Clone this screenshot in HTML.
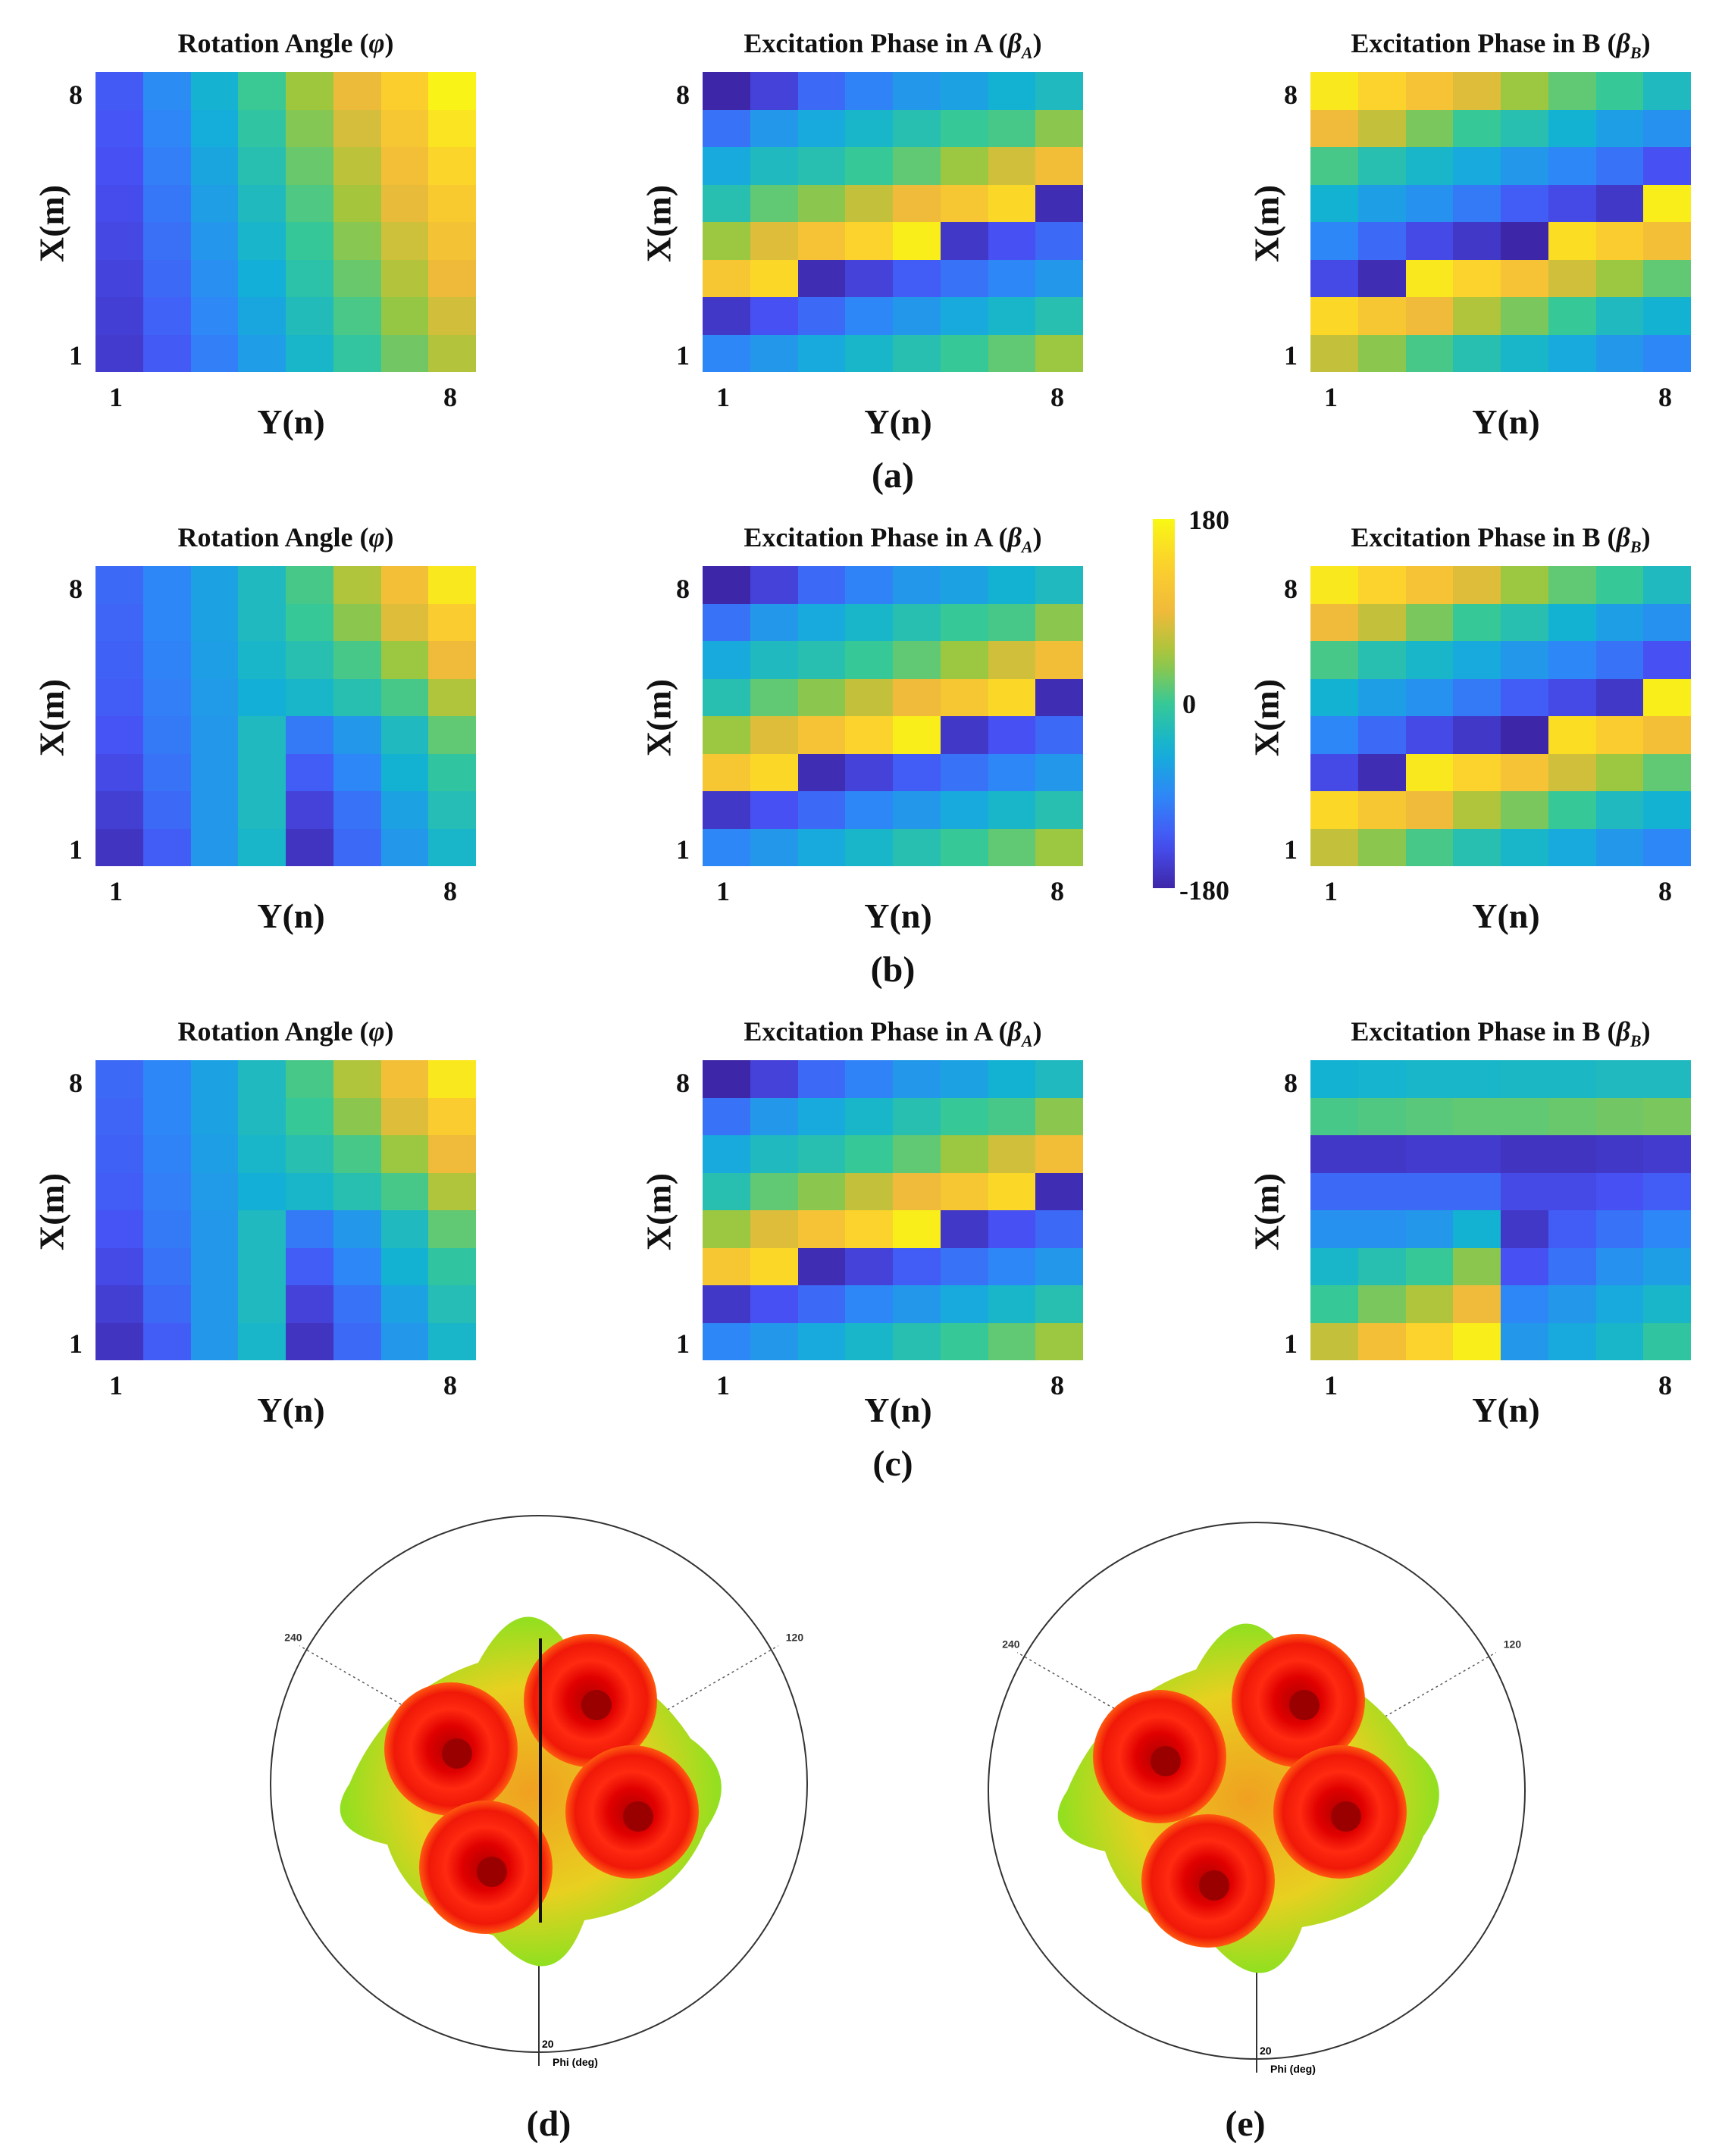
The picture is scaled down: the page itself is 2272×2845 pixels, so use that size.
<!DOCTYPE html>
<html><head><meta charset="utf-8">
<style>
html,body{margin:0;padding:0;background:#fff;}
body{width:2272px;height:2845px;position:relative;overflow:hidden;font-family:"Liberation Serif",serif;font-weight:bold;color:#111;}
.t{position:absolute;white-space:nowrap;}
.title{font-size:36px;transform:translateX(-50%);}
.tick{font-size:36px;}
.ax{font-size:46px;transform:translateX(-50%);}
.xm{font-size:46px;transform:translate(-50%,-50%) rotate(-90deg);}
.lab{font-size:48px;transform:translateX(-50%);}
.hm{position:absolute;display:grid;grid-template-columns:repeat(8,1fr);grid-template-rows:repeat(8,1fr);}
</style></head><body>
<div id="root"></div>
<svg width="2272" height="2845" style="position:absolute;left:0;top:0" id="pol">
<defs>
<radialGradient id="rg" cx="50%" cy="50%" r="50%">
<stop offset="0" stop-color="#b00000"/><stop offset="0.35" stop-color="#e00000"/><stop offset="0.6" stop-color="#ff2a10"/><stop offset="0.85" stop-color="#f01808"/><stop offset="1" stop-color="#ff5a10"/>
</radialGradient>
<radialGradient id="yg" cx="50%" cy="50%" r="50%">
<stop offset="0" stop-color="#f0a020"/><stop offset="0.6" stop-color="#e8d020"/><stop offset="1" stop-color="#90e020"/>
</radialGradient>
</defs>
</svg>
<script>
function parula(v){
 v=Math.max(0,Math.min(1,v));
 var s=[[0,62,38,168],[0.125,71,82,245],[0.25,46,135,247],[0.375,18,177,214],[0.5,55,200,151],[0.625,160,199,60],[0.75,240,186,58],[0.875,252,208,45],[1,249,248,20]];
 for(var i=0;i<s.length-1;i++){if(v<=s[i+1][0]){var t=(v-s[i][0])/(s[i+1][0]-s[i][0]);return 'rgb('+[1,2,3].map(function(k){return Math.round(s[i][k]+(s[i+1][k]-s[i][k])*t)}).join(',')+')';}}
}
var rotA=[];for(var r=7;r>=0;r--){var row=[];for(var c=0;c<8;c++)row.push(0.06+0.085*c+r*(0.012+0.005*c));rotA.push(row);}
var rotB=[[.18,.25,.33,.42,.52,.65,.78,.95],[.17,.25,.33,.42,.5,.6,.72,.85],[.16,.24,.32,.4,.45,.52,.62,.75],[.15,.23,.31,.37,.4,.45,.52,.65],[.13,.22,.3,.42,.22,.3,.42,.55],[.1,.2,.3,.42,.15,.25,.38,.48],[.07,.18,.3,.42,.08,.2,.33,.44],[.04,.15,.3,.4,.04,.18,.3,.4]];
var pA=[[0,.08,.18,.24,.3,.33,.38,.42],[.2,.3,.35,.4,.45,.5,.52,.6],[.35,.42,.45,.5,.55,.62,.7,.77],[.45,.55,.6,.68,.75,.82,.9,.02],[.62,.72,.8,.88,.97,.05,.12,.18],[.82,.9,.02,.08,.15,.2,.25,.3],[.05,.12,.18,.25,.3,.35,.4,.45],[.25,.3,.35,.4,.45,.5,.55,.62]];
var pB=[[.95,.88,.8,.72,.62,.55,.5,.42],[.75,.68,.58,.5,.45,.38,.32,.28],[.52,.45,.4,.35,.3,.25,.2,.12],[.38,.32,.28,.22,.15,.1,.05,.97],[.25,.18,.1,.05,0,.92,.85,.78],[.1,.02,.95,.88,.8,.7,.62,.55],[.9,.82,.75,.65,.58,.5,.42,.38],[.68,.6,.52,.45,.4,.35,.3,.25]];
var pBc=[[.38,.39,.4,.4,.41,.41,.42,.42],[.52,.53,.54,.55,.55,.56,.57,.58],[.05,.05,.06,.06,.04,.04,.05,.06],[.18,.18,.18,.18,.1,.1,.12,.15],[.28,.28,.3,.38,.05,.15,.2,.25],[.4,.45,.5,.6,.12,.2,.28,.32],[.5,.58,.65,.75,.25,.3,.35,.4],[.68,.78,.88,.97,.3,.35,.4,.48]];
var rows=[[rotA,pA,pB],[rotB,pA,pB],[rotB,pA,pBc]];
var px=[126,927,1729],titles=['Rotation Angle (<i>φ</i>)','Excitation Phase in A (<i>β<sub style="font-size:22px">A</sub></i>)','Excitation Phase in B (<i>β<sub style="font-size:22px">B</sub></i>)'];
var H='';
for(var R=0;R<3;R++){var oy=R*652;
 for(var P=0;P<3;P++){var x=px[P];
  H+='<div class="hm" style="left:'+x+'px;top:'+(95+oy)+'px;width:502px;height:396px">';
  rows[R][P].forEach(function(rw){rw.forEach(function(v){H+='<div style="background:'+parula(v)+'"></div>';});});
  H+='</div>';
  H+='<div class="t title" style="left:'+(x+251)+'px;top:'+(36+oy)+'px">'+titles[P]+'</div>';
  H+='<div class="t tick" style="left:'+(x-35)+'px;top:'+(104+oy)+'px">8</div>';
  H+='<div class="t tick" style="left:'+(x-35)+'px;top:'+(448+oy)+'px">1</div>';
  H+='<div class="t tick" style="left:'+(x+18)+'px;top:'+(503+oy)+'px">1</div>';
  H+='<div class="t tick" style="left:'+(x+459)+'px;top:'+(503+oy)+'px">8</div>';
  H+='<div class="t ax" style="left:'+(x+258)+'px;top:'+(530+oy)+'px">Y(n)</div>';
  H+='<div class="t xm" style="left:'+(x-58)+'px;top:'+(295+oy)+'px">X(m)</div>';
 }
 H+='<div class="t lab" style="left:1178px;top:'+(600+oy)+'px">('+'abc'[R]+')</div>';
}
var g='linear-gradient(to top';for(var i=0;i<=20;i++)g+=','+parula(i/20);g+=')';
H+='<div style="position:absolute;left:1521px;top:685px;width:29px;height:487px;background:'+g+'"></div>';
H+='<div class="t tick" style="left:1568px;top:665px">180</div><div class="t tick" style="left:1560px;top:908px">0</div><div class="t tick" style="left:1556px;top:1154px">-180</div>';
H+='<div class="t lab" style="left:724px;top:2775px">(d)</div><div class="t lab" style="left:1643px;top:2775px">(e)</div>';
document.getElementById('root').innerHTML=H;
var S='';
function pol(cx,cy,lobes,line){
 var r=354;
 S+='<circle cx="'+cx+'" cy="'+cy+'" r="'+r+'" fill="none" stroke="#333" stroke-width="2"/>';
 [[-60,'240'],[60,'120']].forEach(function(a){var t=(a[0]-90)*Math.PI/180;var x2=cx+Math.cos(t)*r*1.03,y2=cy+Math.sin(t)*r*1.03;
  S+='<line x1="'+cx+'" y1="'+cy+'" x2="'+x2+'" y2="'+y2+'" stroke="#555" stroke-width="1.5" stroke-dasharray="3,4"/>';
  S+='<text x="'+(x2+(a[0]<0?-20:10))+'" y="'+(y2-6)+'" font-family="Liberation Sans" font-size="14" fill="#333">'+a[1]+'</text>';});
 S+='<line x1="'+cx+'" y1="'+cy+'" x2="'+cx+'" y2="'+(cy+r+18)+'" stroke="#333" stroke-width="2"/>';
 S+='<text x="'+(cx+4)+'" y="'+(cy+r-6)+'" font-family="Liberation Sans" font-size="14">20</text>';
 S+='<text x="'+(cx+18)+'" y="'+(cy+r+18)+'" font-family="Liberation Sans" font-size="14">Phi (deg)</text>';
 S+='<path d="M'+(cx-250)+' '+(cy+0)+' Q'+(cx-200)+' '+(cy-120)+' '+(cx-80)+' '+(cy-160)+' Q'+(cx-20)+' '+(cy-270)+' '+(cx+40)+' '+(cy-180)+' Q'+(cx+150)+' '+(cy-140)+' '+(cx+200)+' '+(cy-60)+' Q'+(cx+270)+' '+(cy-10)+' '+(cx+220)+' '+(cy+60)+' Q'+(cx+180)+' '+(cy+160)+' '+(cx+60)+' '+(cy+180)+' Q'+(cx+20)+' '+(cy+290)+' '+(cx-60)+' '+(cy+200)+' Q'+(cx-170)+' '+(cy+170)+' '+(cx-200)+' '+(cy+80)+' Q'+(cx-290)+' '+(cy+60)+' '+(cx-250)+' '+cy+' Z" fill="url(#yg)"/>';
 lobes.forEach(function(l){S+='<circle cx="'+l[0]+'" cy="'+l[1]+'" r="88" fill="url(#rg)"/><circle cx="'+(l[0]+8)+'" cy="'+(l[1]+6)+'" r="20" fill="#9a0000"/>';});
 if(line)S+='<line x1="'+(cx+2)+'" y1="'+(cy-192)+'" x2="'+(cx+2)+'" y2="'+(cy+183)+'" stroke="#111" stroke-width="4"/>';
}
pol(711,2354,[[595,2308],[779,2244],[834,2391],[641,2464]],true);
pol(1658,2363,[[1530,2318],[1713,2244],[1768,2391],[1594,2482]],false);
document.getElementById('pol').innerHTML+=S;
</script>
</body></html>
